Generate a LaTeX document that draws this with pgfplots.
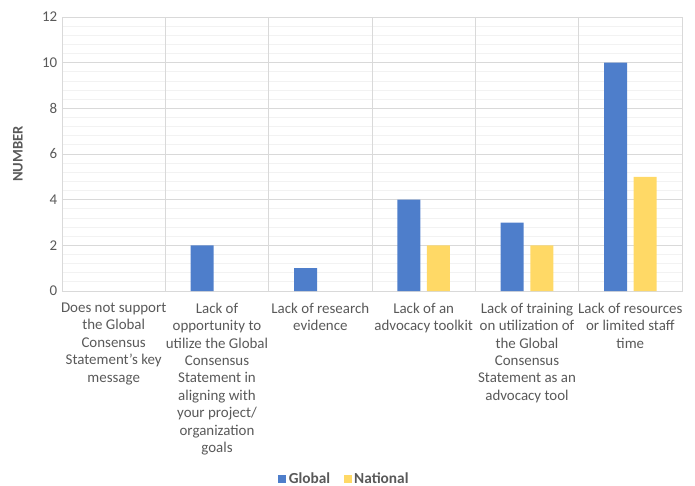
\documentclass[border=0pt]{standalone}
\usepackage{pgfplots}
\pgfplotsset{compat=1.18}
\usepackage{fontspec}
\setmainfont{Carlito}
\definecolor{globalblue}{HTML}{4E7ECB}
\definecolor{natyellow}{HTML}{FFD966}
\definecolor{txtgray}{HTML}{595959}
\definecolor{gridmaj}{HTML}{D9D9D9}
\definecolor{gridmin}{HTML}{F2F2F2}
\begin{document}
\begin{tikzpicture}
\begin{axis}[
    scale only axis,
    width=465pt, height=205.5pt,
    ybar=4.9pt, bar width=17.25pt,
    xmin=-0.5, xmax=5.5, ymin=0, ymax=12,
    enlarge x limits=false, enlarge y limits=false,
    unbounded coords=discard,
    y filter/.expression={y==0 ? nan : y},
    xtick={0,...,5},
    xticklabels={
        {Does not support\\the Global\\Consensus\\Statement's key\\message},
        {Lack of\\opportunity to\\utilize the Global\\Consensus\\Statement in\\aligning with\\your project/\\organization\\goals},
        {Lack of research\\evidence},
        {Lack of an\\advocacy toolkit},
        {Lack of training\\on utilization of\\the Global\\Consensus\\Statement as an\\advocacy tool},
        {Lack of resources\\or limited staff\\time}},
    extra x ticks={0.5,1.5,2.5,3.5,4.5},
    extra x tick labels={},
    extra x tick style={grid=major},
    ytick={0,2,...,12},
    minor y tick num=4,
    ymajorgrids, yminorgrids,
    major grid style={gridmaj, line width=0.6pt},
    minor grid style={gridmin, line width=0.6pt},
    tick style={draw=none},
    axis line style={gridmaj, line width=0.6pt},
    ticklabel style={font=\fontsize{11.2}{13.1}\selectfont, text=txtgray},
    x tick label style={align=center, yshift=-1pt},
    /pgf/number format/assume math mode=true,
    ylabel={NUMBER},
    ylabel style={font=\fontsize{11}{13}\selectfont\bfseries, text=txtgray,
        at={(axis description cs:-0.071,0.5)}, anchor=center},
    legend style={draw=none, fill=none, legend columns=2,
        at={(axis description cs:0.456,-0.685)}, anchor=center,
        font=\fontsize{11.5}{13}\selectfont\bfseries, text=txtgray,
        /tikz/every even column/.append style={column sep=8pt}},
    legend image code/.code={\fill[#1] (0pt,-3pt) rectangle (6pt,3pt);},
]
\addplot[fill=globalblue, draw=none] coordinates {(0,0) (1,2) (2,1) (3,4) (4,3) (5,10)};
\addplot[fill=natyellow, draw=none] coordinates {(0,0) (1,0) (2,0) (3,2) (4,2) (5,5)};
\legend{Global, National}
\coordinate (bl) at (rel axis cs:0,0);
\coordinate (tr) at (rel axis cs:1,1);
\end{axis}
\pgfresetboundingbox
\path[use as bounding box] (bl) ++(-46.5pt,-145.5pt) rectangle ([xshift=9.75pt,yshift=12.75pt]tr);
\end{tikzpicture}
\end{document}
